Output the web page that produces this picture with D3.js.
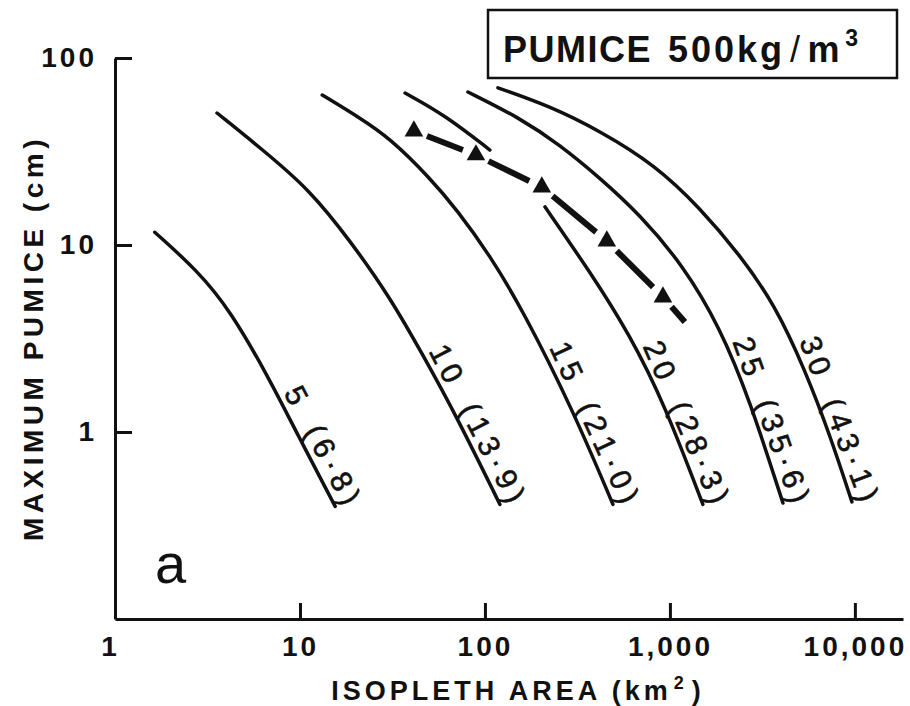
<!DOCTYPE html>
<html><head><meta charset="utf-8">
<script src="https://cdn.jsdelivr.net/npm/d3@7"></script>
<style>
body{margin:0;background:#fff;}
svg text{font-family:"Liberation Sans",Arial,Helvetica,sans-serif;fill:#111;}
</style></head><body>
<svg id="chart" width="910" height="706"></svg>
<script>
// ---------- data ----------
const xTicks = [1, 10, 100, 1000, 10000];
const xTickLabels = ["1", "10", "100", "1,000", "10,000"];
const yTicks = [1, 10, 100];
const yTickLabels = ["1", "10", "100"];

const curveLabels = ["5 (6·8)", "10 (13·9)", "15 (21·0)", "20 (28·3)", "25 (35·6)", "30 (43·1)"];
// [area km2, max pumice cm]; null = break in the line
const curve5  = [[1.64,11.7],[2.77,7.35],[4.19,4.49],[6.88,1.90],[9.6,0.99],[15.5,0.40]];
const curve10 = [[3.56,50.8],[6.31,32.2],[11.3,19.7],[18.6,10.6],[30.6,5.27],[46.2,2.58],[70.6,1.20],[120.5,0.41]];
const curve15 = [[13.2,63.4],[21.1,47.8],[30.6,37.3],[50.5,22.8],[70.6,15.4],[106,8.85],[160,4.49],[299,1.31],[492,0.41]];
const curve20 = [[37.0,65.0],[60.8,49.5],[106.4,32.2],null,[211,16.0],[370,7.18],[608,3.30],[940,1.39],[1507,0.41]];
const curve25 = [[80.9,65.8],[154.5,47.8],[254,34.3],[419,22.8],[689,14.5],[1175,7.82],[1862,3.64],[2704,1.48],[4083,0.417]];
const curve30 = [[117.5,69.2],[224,55.3],[419,40.7],[830,26.8],[1452,15.8],[2388,8.85],[3698,4.78],[5370,2.15],[7328,0.964],[9638,0.423]];
const curves = [curve5, curve10, curve15, curve20, curve25, curve30];

// observed deposit (triangles) and the dashed tail beyond the last one
const observed = [[41.3,40.7],[89.4,30.3],[203,20.4],[456,10.5],[917,5.27]];
const observedTail = [1205,3.87];

const titleParts = ["PUMICE", "500kg", "/", "m"];
const titleSup = "3";
const xTitle = "ISOPLETH AREA (km";
const xTitleSup = "2";
const yTitle = "MAXIMUM PUMICE (cm)";
const panelLetter = "a";

// ---------- drawing ----------
const svg = d3.select("#chart");
const x = d3.scaleLog().domain([1, 18200]).range([115, 903]);
const y = d3.scaleLog().domain([0.1, 100]).range([619, 58]);

// axes
const xAxis = d3.axisBottom(x).tickValues(xTicks)
  .tickFormat((d,i) => xTickLabels[i]).tickSizeInner(-16).tickSizeOuter(0).tickPadding(17);
const gx = svg.append("g").attr("transform","translate(0,619)").call(xAxis);
const yAxis = d3.axisLeft(y).tickValues(yTicks)
  .tickFormat((d,i) => yTickLabels[i]).tickSizeInner(-17).tickSizeOuter(0).tickPadding(18);
const gy = svg.append("g").attr("transform","translate(115,0)").call(yAxis);

[gx, gy].forEach(g => {
  g.attr("font-family", null).attr("font-size", null);
  g.select(".domain").attr("stroke","#111").attr("stroke-width",3);
  g.selectAll(".tick line").attr("stroke","#111").attr("stroke-width",3);
  g.selectAll(".tick text").attr("font-size",28).attr("font-weight","bold")
    .attr("letter-spacing",3).attr("fill","#111");
});
gx.selectAll(".tick text").filter(d => d === 1).attr("dx", -5);

// curves
const line = d3.line().defined(d => d !== null)
  .x(d => x(d[0])).y(d => y(d[1])).curve(d3.curveBasis);

curves.forEach((c, i) => {
  const p = svg.append("path").datum(c).attr("d", line)
    .attr("fill","none").attr("stroke","#111").attr("stroke-width",3.5).attr("stroke-linecap","round");
  const node = p.node();
  const L = node.getTotalLength();
  const P = node.getPointAtLength(L);
  const Q = node.getPointAtLength(L - 170);
  const th = Math.atan2(P.y - Q.y, P.x - Q.x);
  const ux = Math.cos(th), uy = Math.sin(th), nx = Math.sin(th), ny = -Math.cos(th);
  const tx = P.x + ux*10 + nx*7, ty = P.y + uy*10 + ny*7;
  svg.append("text").attr("x", tx).attr("y", ty)
    .attr("transform", `rotate(${th*180/Math.PI},${tx},${ty})`)
    .attr("text-anchor","end").attr("font-size",30).attr("letter-spacing",5.5)
    .attr("word-spacing",8).attr("stroke","#111").attr("stroke-width",0.6)
    .text(curveLabels[i]);
});

// observed dashed line with triangles
const pts = observed.map(d => [x(d[0]), y(d[1])]);
const tail = [x(observedTail[0]), y(observedTail[1])];
function seg(a, b, g0, g1) {
  const dx = b[0]-a[0], dy = b[1]-a[1], len = Math.hypot(dx, dy);
  return [a[0]+dx*g0/len, a[1]+dy*g0/len, b[0]-dx*g1/len, b[1]-dy*g1/len];
}
const segs = [];
for (let i = 0; i < pts.length-1; i++) segs.push(seg(pts[i], pts[i+1], 14, 14));
segs.push(seg(pts[pts.length-1], tail, 13, 0));
svg.selectAll(".dash").data(segs).join("line").attr("class","dash")
  .attr("x1",d=>d[0]).attr("y1",d=>d[1]).attr("x2",d=>d[2]).attr("y2",d=>d[3])
  .attr("stroke","#111").attr("stroke-width",6);
svg.selectAll(".tri").data(observed).join("path").attr("class","tri")
  .attr("d", d3.symbol(d3.symbolTriangle, 150))
  .attr("transform", d => `translate(${x(d[0])},${y(d[1])})`).attr("fill","#111");

// title box
svg.append("rect").attr("x",488).attr("y",10).attr("width",409).attr("height",68)
  .attr("fill","none").attr("stroke","#111").attr("stroke-width",2.5);
const tt = svg.append("text").attr("x",503).attr("y",62).attr("font-size",36)
  .attr("font-weight","bold").attr("letter-spacing",1.5);
tt.append("tspan").text(titleParts[0]);
tt.append("tspan").attr("dx",16).attr("letter-spacing",3).text(titleParts[1]);
tt.append("tspan").attr("dx",5).attr("font-weight","normal").text(titleParts[2]);
tt.append("tspan").attr("dx",6).text(titleParts[3]);
tt.append("tspan").attr("dx",4).attr("dy",-16).attr("font-size",23).text(titleSup);

// axis titles
const xt = svg.append("text").attr("x",518).attr("y",700).attr("text-anchor","middle")
  .attr("font-size",27).attr("font-weight","bold").attr("letter-spacing",4);
xt.append("tspan").text(xTitle);
xt.append("tspan").attr("dx",2).attr("dy",-11).attr("font-size",18).text(xTitleSup);
xt.append("tspan").attr("dx",4).attr("dy",11).text(")");

svg.append("text").attr("transform","translate(43,338) rotate(-90)")
  .attr("text-anchor","middle").attr("font-size",28).attr("font-weight","bold")
  .attr("letter-spacing",4.5).text(yTitle);

svg.append("text").attr("x",155).attr("y",583).attr("font-size",56).text(panelLetter);
</script>
</body></html>
